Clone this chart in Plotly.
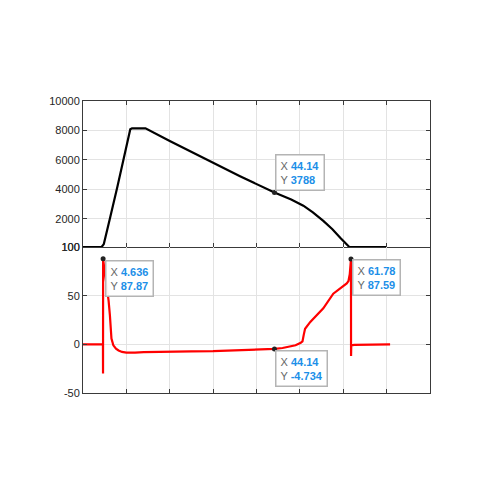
import plotly.graph_objects as go
from plotly.subplots import make_subplots

# Top series (black)
top_x = [0, 4.3, 4.8, 5.2, 6.3, 7.9, 9.4, 10.2, 10.6, 10.9, 11.3, 14.4, 20, 25, 30, 36.2, 44.14,
         48, 50.8, 53, 55.4, 57.5, 59.3, 60.5, 61.4, 70]
top_y = [100, 100, 300, 750, 2150, 4150, 6200, 7300, 7850, 8080, 8150, 8150, 7290, 6540, 5800, 4900, 3788,
         3320, 2900, 2450, 1870, 1300, 724, 350, 100, 100]

# Bottom series (red)
bot_x = [0, 4.60, 4.62, 4.636, 5.0, 5.5, 5.9, 6.2, 6.56, 7.0, 7.6, 8.2, 9.0, 10.0, 11.0, 12.0,
         14.0, 17, 20, 25, 30, 36.2, 40, 44.14, 46, 47.8, 49, 50.2, 50.6, 50.9, 51.2, 52.4,
         54, 55.4, 57.7, 59.3, 60.3, 60.8, 61.2, 61.5, 61.78, 61.80, 61.85, 62.5, 65, 70.8]
bot_y = [0, 0, -30, 87.87, 75, 60, 45, 30, 6, -1, -4.5, -6.3, -7.8, -8.5, -8.8, -8.5,
         -8, -7.6, -7.4, -7.2, -7, -6.3, -5.7, -4.734, -3.8, -2.4, -1, 1.5, 3, 10, 16, 23,
         30.5, 37, 52, 57.5, 60, 62.5, 65, 72, 87.59, -12, -1, -0.5, -0.3, 0]

# Data tips
tip_top = dict(x=[44.14], y=[3788], lbl=[("44.14", "3788")])
tip_bot_x = [4.636, 61.78, 44.14]
tip_bot_y = [87.87, 87.59, -4.734]
tip_bot_lbl = [("4.636", "87.87"), ("61.78", "87.59"), ("44.14", "-4.734")]

top_ticks = [100, 2000, 4000, 6000, 8000, 10000]
bot_ticks = [-50, 0, 50, 100]
x_ticks = [0, 10, 20, 30, 40, 50, 60, 70, 80]

fig = make_subplots(rows=2, cols=1, shared_xaxes=False, vertical_spacing=0)

fig.add_trace(go.Scatter(x=top_x, y=top_y, mode="lines",
                         line=dict(color="black", width=2.2), hoverinfo="skip"), row=1, col=1)
fig.add_trace(go.Scatter(x=bot_x, y=bot_y, mode="lines",
                         line=dict(color="#ff0000", width=2.2), hoverinfo="skip"), row=2, col=1)
fig.add_trace(go.Scatter(x=tip_top["x"], y=tip_top["y"], mode="markers",
                         marker=dict(color="#222", size=5), hoverinfo="skip"), row=1, col=1)
fig.add_trace(go.Scatter(x=tip_bot_x, y=tip_bot_y, mode="markers",
                         marker=dict(color="#222", size=5), hoverinfo="skip"), row=2, col=1)

axis_col = "#3a3a3a"
grid_col = "#e3e3e3"
tickfont = dict(family="Liberation Sans, Arial, sans-serif", size=11, color="#262626")

common_x = dict(range=[0, 80], tickvals=x_ticks, showticklabels=False, ticks="inside",
                ticklen=4, tickcolor=axis_col, showline=True, linecolor=axis_col, linewidth=1,
                showgrid=True, gridcolor=grid_col, gridwidth=1, zeroline=False)
fig.update_xaxes(**common_x, mirror="ticks", row=1, col=1)
fig.update_xaxes(**common_x, mirror=False, row=2, col=1)

fig.update_yaxes(range=[100, 10000], tickvals=top_ticks, ticktext=[str(v) for v in top_ticks],
                 ticks="inside", ticklen=4, tickcolor=axis_col, showline=True, linecolor=axis_col,
                 linewidth=1, mirror="ticks", showgrid=True, gridcolor=grid_col, zeroline=False,
                 tickfont=tickfont, domain=[0.5, 1], row=1, col=1)
fig.update_yaxes(range=[-50, 100], tickvals=bot_ticks, ticktext=[str(v) for v in bot_ticks],
                 ticks="inside", ticklen=4, tickcolor=axis_col, showline=True, linecolor=axis_col,
                 linewidth=1, mirror="ticks", showgrid=True, gridcolor=grid_col, zeroline=False,
                 tickfont=tickfont, domain=[0, 0.5], row=2, col=1)


def tip_text(xv, yv):
    return (f"<span style='color:#666'>X</span> <b>{xv}</b><br>"
            f"<span style='color:#666'>Y</span> <b>{yv}</b>")


annos = []
common_a = dict(showarrow=False, align="left", bgcolor="rgba(255,255,255,0.95)",
                bordercolor="#b4b4b4", borderwidth=1.5, borderpad=4,
                font=dict(family="Liberation Sans, Arial, sans-serif", size=11, color="#1c8fe8"))
annos.append(dict(x=tip_top["x"][0], y=tip_top["y"][0], xref="x", yref="y",
                  text=tip_text(*tip_top["lbl"][0]), xanchor="left", yanchor="bottom",
                  xshift=1, yshift=2, **common_a))
shifts = [(2, -1), (1, 0), (1, -1)]
for xv, yv, lbl, (sx, sy) in zip(tip_bot_x, tip_bot_y, tip_bot_lbl, shifts):
    annos.append(dict(x=xv, y=yv, xref="x2", yref="y2", text=tip_text(*lbl),
                      xanchor="left", yanchor="top", xshift=sx, yshift=sy, **common_a))

fig.update_layout(width=500, height=500, showlegend=False,
                  margin=dict(l=75, r=78, t=93, b=115, autoexpand=False),
                  paper_bgcolor="white", plot_bgcolor="white", annotations=annos)

fig.write_html("out.html")
